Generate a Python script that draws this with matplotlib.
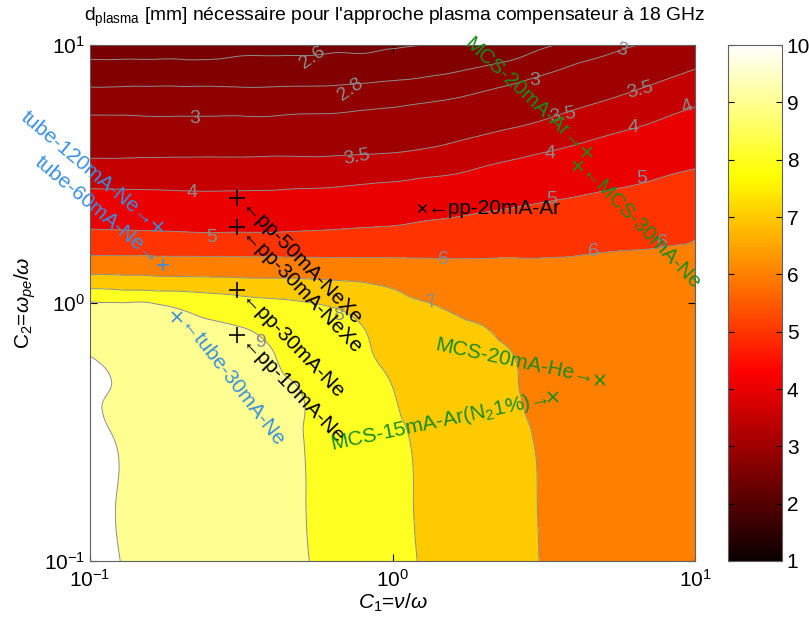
import numpy as np
import matplotlib
matplotlib.use('Agg')
import matplotlib.pyplot as plt
import matplotlib.tri as mtri
from matplotlib.colors import Normalize
from matplotlib import cm, ticker

# ---------------- data ----------------
# grid exponents: C1 = 10**c1_exp, C2 = 10**c2_exp
c1_exp = [-1.0, -0.9, -0.8, -0.7, -0.6, -0.5, -0.4, -0.3, -0.2, -0.1, 0.0,
          0.1, 0.2, 0.3, 0.4, 0.5, 0.6, 0.7, 0.8, 0.9, 1.0]
c2_exp = [-1.0, -0.75, -0.5, -0.35, -0.2, -0.1, 0.0, 0.05, 0.1, 0.15, 0.2,
          0.25, 0.3, 0.4, 0.5, 0.6, 0.7, 0.8, 0.9, 0.95, 1.0]
# d_plasma [mm], one row per C2 value (bottom to top), one column per C1 value
d_plasma = [
 [10.15,10.00,9.84,9.68,9.53,9.37,9.21,9.05,8.81,8.52,8.23,7.95,7.70,7.45,7.20,6.97,6.83,6.68,6.54,6.39,6.25],
 [10.13,9.98,9.82,9.66,9.51,9.35,9.19,9.03,8.77,8.48,8.19,7.92,7.67,7.42,7.17,6.96,6.81,6.67,6.52,6.38,6.25],
 [10.10,9.95,9.79,9.64,9.48,9.32,9.16,9.01,8.72,8.43,8.14,7.87,7.62,7.37,7.13,6.93,6.78,6.64,6.50,6.35,6.25],
 [10.08,9.92,9.74,9.60,9.44,9.27,9.12,9.00,8.50,8.28,8.03,7.62,7.43,7.24,7.07,6.73,6.61,6.50,6.39,6.28,6.20],
 [9.97,9.72,9.58,9.45,9.30,9.15,9.03,8.59,8.28,8.13,7.72,7.37,7.23,7.11,7.00,6.52,6.44,6.37,6.29,6.21,6.15],
 [9.50,9.45,9.35,9.25,9.13,9.03,8.75,8.32,8.13,8.03,7.44,7.20,7.10,7.02,6.76,6.39,6.33,6.27,6.22,6.16,6.12],
 [9.08,9.02,9.01,8.74,8.49,8.28,8.14,8.04,7.90,7.56,7.17,7.03,6.87,6.70,6.48,6.25,6.22,6.18,6.15,6.11,6.08],
 [8.11,8.02,7.96,7.91,7.81,7.72,7.65,7.56,7.40,7.23,7.03,6.80,6.62,6.50,6.35,6.18,6.16,6.14,6.11,6.09,6.07],
 [7.16,7.12,7.08,7.04,7.01,6.97,6.95,6.93,6.88,6.83,6.65,6.48,6.37,6.30,6.21,6.11,6.10,6.09,6.08,6.06,6.05],
 [6.44,6.42,6.40,6.38,6.36,6.34,6.33,6.31,6.29,6.28,6.21,6.16,6.12,6.10,6.08,6.05,6.05,6.05,6.04,6.04,6.04],
 [5.82,5.81,5.79,5.77,5.76,5.75,5.75,5.76,5.76,5.78,5.80,5.82,5.83,5.86,5.89,5.92,5.95,5.99,6.01,6.02,6.02],
 [5.33,5.30,5.27,5.23,5.20,5.21,5.21,5.25,5.29,5.35,5.40,5.46,5.51,5.57,5.62,5.68,5.73,5.79,5.84,5.93,5.99],
 [4.89,4.86,4.84,4.82,4.80,4.81,4.81,4.84,4.88,4.94,4.99,5.11,5.19,5.29,5.36,5.44,5.50,5.57,5.64,5.74,5.83],
 [4.23,4.21,4.20,4.18,4.17,4.18,4.19,4.22,4.25,4.32,4.38,4.49,4.59,4.71,4.83,4.95,5.05,5.15,5.24,5.35,5.45],
 [3.73,3.73,3.73,3.73,3.73,3.73,3.74,3.75,3.76,3.80,3.84,3.92,3.99,4.14,4.28,4.42,4.55,4.69,4.81,4.96,5.08],
 [3.37,3.37,3.38,3.38,3.38,3.38,3.39,3.39,3.40,3.42,3.44,3.49,3.57,3.69,3.80,3.92,4.05,4.20,4.35,4.51,4.66],
 [3.07,3.07,3.06,3.06,3.06,3.06,3.06,3.08,3.09,3.12,3.15,3.20,3.26,3.34,3.43,3.53,3.66,3.79,3.91,4.07,4.24],
 [2.86,2.86,2.86,2.86,2.86,2.86,2.86,2.87,2.87,2.89,2.91,2.94,2.98,3.05,3.13,3.24,3.34,3.45,3.57,3.71,3.85],
 [2.69,2.69,2.69,2.69,2.69,2.69,2.69,2.69,2.70,2.71,2.73,2.76,2.79,2.83,2.88,2.96,3.06,3.16,3.27,3.39,3.52],
 [2.59,2.59,2.59,2.59,2.59,2.61,2.61,2.61,2.62,2.62,2.64,2.68,2.72,2.75,2.79,2.86,2.94,3.02,3.13,3.24,3.36],
 [2.51,2.52,2.53,2.53,2.54,2.55,2.56,2.57,2.58,2.58,2.59,2.60,2.64,2.69,2.73,2.78,2.84,2.91,2.99,3.09,3.19],
]
levels = [2.6, 2.8, 3, 3.5, 4, 5, 6, 7, 8, 9, 10]

# contour labels
lab_text = ['2.6','2.8','3','3.5','4','5','3','3.5','3','3.5','4','4','4','5','5','6','6','6','7','8','9']
lab_c1 = [0.546,0.724,0.222,0.764,0.217,0.253,2.96,3.66,5.74,6.58,9.42,3.32,6.24,6.68,3.37,1.47,4.60,7.83,1.35,0.661,0.365]
lab_c2 = [8.98,6.70,5.21,3.68,2.67,1.80,7.31,5.36,9.56,6.70,5.75,3.81,4.81,3.05,2.51,1.47,1.58,1.72,1.01,0.898,0.706]

# measurement points
pp_names = ['\u2190pp-50mA-NeXe', '\u2190pp-30mA-NeXe', '\u2190pp-30mA-Ne', '\u2190pp-10mA-Ne']
pp_c1 = [0.306, 0.306, 0.306, 0.306]
pp_c2 = [2.55, 1.97, 1.12, 0.751]
ar_name = '\u2190pp-20mA-Ar'; ar_c1 = 1.25; ar_c2 = 2.33
tube_names = ['tube-120mA-Ne\u2192', 'tube-60mA-Ne\u2192', '\u2190tube-30mA-Ne']
tube_c1 = [0.168, 0.174, 0.194]
tube_c2 = [1.97, 1.40, 0.883]
mcs_names = ['MCS-20mA-He\u2192', r'MCS-15mA-Ar($\mathregular{N_2}$1%)' + '\u2192',
             'MCS-20mA-Ar\u2192', '\u2190MCS-30mA-Ne']
mcs_c1 = [4.85, 3.40, 4.40, 4.10]
mcs_c2 = [0.503, 0.433, 3.85, 3.40]

# ---------------- drawing ----------------
plt.rcParams['font.family'] = ['Liberation Sans', 'DejaVu Sans']
plt.rcParams['mathtext.fontset'] = 'custom'
plt.rcParams['mathtext.rm'] = 'Liberation Sans'
plt.rcParams['mathtext.it'] = 'Liberation Sans:italic'
plt.rcParams['mathtext.bf'] = 'Liberation Sans:bold'

norm = Normalize(1, 10)
fill_levels = [0] + levels + [100]
fill_colors = [cm.hot(norm(c)) for c in [2.5] + levels]

U, V = np.meshgrid(c1_exp, c2_exp)
Z = np.array(d_plasma)
tri = mtri.Triangulation(U.ravel(), V.ravel())
tri_f, z_f = mtri.UniformTriRefiner(tri).refine_field(Z.ravel(), subdiv=3)
tri_plot = mtri.Triangulation(10 ** tri_f.x, 10 ** tri_f.y, tri_f.triangles)

fig = plt.figure(figsize=(8.09, 6.26), dpi=100)
ax = fig.add_axes([90/809, 1-561/626, 605/809, 516/626])
cax = fig.add_axes([728/809, 1-561/626, 54/809, 516/626])

ax.tricontourf(tri_plot, z_f, levels=fill_levels, colors=fill_colors)
ax.tricontour(tri_plot, z_f, levels=levels, colors='#8c8c8c', linewidths=0.7)
ax.set_xscale('log'); ax.set_yscale('log')
ax.set_xlim(0.1, 10); ax.set_ylim(0.1, 10)
ax.xaxis.set_minor_locator(ticker.NullLocator())
ax.yaxis.set_minor_locator(ticker.NullLocator())
ax.tick_params(direction='in', top=True, right=True, labelsize=15, length=5)
ax.tick_params(axis='x', pad=6)
for s in ax.spines.values():
    s.set_color('#606060'); s.set_linewidth(0.8)
ax.set_xlabel(r'$C_1$=$\nu$/$\omega$', fontsize=15, labelpad=0)
ax.set_ylabel(r'C$_2$=$\omega_{pe}$/$\omega$', fontsize=15, labelpad=4)
fig.text(395/809, 1-17/626, r'$\mathregular{d_{plasma}}$' + " [mm] nécessaire pour l'approche plasma compensateur à 18 GHz",
         ha='center', va='center', fontsize=13.9)

lab_rot = [35,35,0,10,0,0,0,10,-15,15,20,0,0,0,0,0,0,0,15,0,0]
for t, x, y, r in zip(lab_text, lab_c1, lab_c2, lab_rot):
    ax.text(x, y, t, color='#8c8c8c', fontsize=14, ha='center', va='center', rotation=r)

green = '#198c19'; blue = '#3a8fe0'
ax.plot(pp_c1, pp_c2, 'k+', ms=11, mew=1.2, clip_on=False)
for n, x, y in zip(pp_names, pp_c1, pp_c2):
    ax.annotate(n, (x, y), xytext=(5, -5), textcoords='offset points', rotation=-46,
                rotation_mode='anchor', ha='left', va='center', fontsize=15, color='k')
ax.plot([ar_c1], [ar_c2], 'kx', ms=6, mew=1)
ax.annotate(ar_name, (ar_c1, ar_c2), xytext=(4, 0), textcoords='offset points',
            ha='left', va='center', fontsize=15, color='k')

tube_marker = ['x', '+', 'x']
tube_rot = [-40, -40, -52]
tube_off = [(-4, 3), (-4, 3), (4, -4)]
tube_ha = ['right', 'right', 'left']
for n, x, y, m, r, o, h in zip(tube_names, tube_c1, tube_c2, tube_marker, tube_rot, tube_off, tube_ha):
    ax.plot([x], [y], m, color=blue, ms=8 if m == '+' else 7, mew=1.2)
    ax.annotate(n, (x, y), xytext=o, textcoords='offset points', rotation=r, rotation_mode='anchor',
                ha=h, va='center', fontsize=15, color=blue, annotation_clip=False)

mcs_rot = [-12, 12, -43, -46]
mcs_off = [(-4, 1), (-4, -1), (-4, 3), (4, -4)]
mcs_ha = ['right', 'right', 'right', 'left']
for n, x, y, r, o, h in zip(mcs_names, mcs_c1, mcs_c2, mcs_rot, mcs_off, mcs_ha):
    ax.plot([x], [y], 'x', color=green, ms=7, mew=1.2)
    ax.annotate(n, (x, y), xytext=o, textcoords='offset points', rotation=r, rotation_mode='anchor',
                ha=h, va='center', fontsize=15, color=green, annotation_clip=False)

sm = cm.ScalarMappable(norm=norm, cmap='hot')
cb = fig.colorbar(sm, cax=cax, ticks=range(1, 11))
cax.tick_params(direction='in', left=True, right=True, labelsize=15, length=4)
cb.outline.set_edgecolor('#606060'); cb.outline.set_linewidth(0.8)

fig.savefig('out.png', dpi=100)
